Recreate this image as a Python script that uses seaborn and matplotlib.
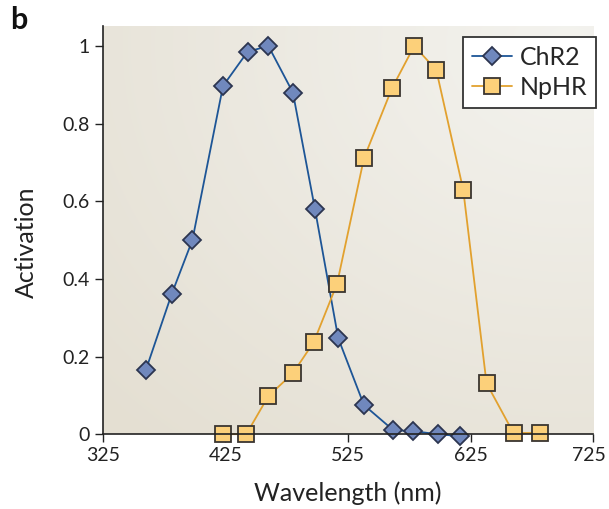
import matplotlib
matplotlib.use('Agg')
import matplotlib.pyplot as plt
import matplotlib.transforms as mtrans
import numpy as np
import pandas as pd
import seaborn as sns

# wavelengths (nm) and activation
chr2_wl = [360, 381, 398, 423, 443, 460, 480, 498, 517, 538, 562, 578, 598, 616]
chr2_act = [0.165, 0.36, 0.50, 0.897, 0.985, 1.0, 0.88, 0.58, 0.247, 0.075, 0.01, 0.008, 0.0, -0.005]

nphr_wl = [423, 442, 460, 480, 497, 516, 538, 561, 579, 597, 619, 638, 660, 682]
nphr_act = [0.0, 0.0, 0.098, 0.157, 0.237, 0.387, 0.711, 0.892, 1.0, 0.938, 0.629, 0.131, 0.003, 0.003]

x_ticks = [325, 425, 525, 625, 725]
y_ticks = [0, 0.2, 0.4, 0.6, 0.8, 1]
y_ticklabels = ['0', '0.2', '0.4', '0.6', '0.8', '1']

sns.set_style('ticks')
plt.rcParams['font.family'] = ['Lato', 'DejaVu Sans']

fig = plt.figure(figsize=(6.09, 5.09), dpi=100)
ax = fig.add_axes([0.169, 0.147, 0.805, 0.802])

# beige radial background, lighter toward upper right
gx, gy = np.meshgrid(np.linspace(0, 1, 300), np.linspace(0, 1, 300))
r = np.sqrt((gx - 0.95) ** 2 + (gy - 0.95) ** 2) / 1.3
c0 = np.array([0.955, 0.952, 0.935])
c1 = np.array([0.895, 0.875, 0.825])
img = c0 + (c1 - c0) * np.clip(r, 0, 1)[..., None]
ax.imshow(img, extent=[0, 1, 0, 1], origin='lower', transform=ax.transAxes,
          aspect='auto', zorder=0)

df1 = pd.DataFrame({'wl': chr2_wl, 'act': chr2_act})
df2 = pd.DataFrame({'wl': nphr_wl, 'act': nphr_act})

sns.lineplot(data=df1, x='wl', y='act', ax=ax, color='#1d5596', lw=1.3,
             marker='D', markersize=9.5, markerfacecolor='#7088bd',
             markeredgecolor='#2c3550', markeredgewidth=1.3, label='ChR2',
             sort=False, zorder=3)
sns.lineplot(data=df2, x='wl', y='act', ax=ax, color='#e2a12e', lw=1.3,
             marker='s', markersize=11, markerfacecolor='#fcd07a',
             markeredgecolor='#3a3530', markeredgewidth=1.3, label='NpHR',
             sort=False, zorder=3)
for ln in ax.lines:
    ln.set_clip_on(False)

ax.set_xlim(325, 725)
ax.set_ylim(0, 1.0515)
ax.set_xticks(x_ticks)
ax.set_yticks(y_ticks)
ax.set_yticklabels(y_ticklabels)
ax.tick_params(labelsize=14, length=6, width=1, color='#222222', labelcolor='#222222')
for s in ['top', 'right']:
    ax.spines[s].set_visible(False)
for s in ['left', 'bottom']:
    ax.spines[s].set_color('#222222')
    ax.spines[s].set_linewidth(1.2)
    ax.spines[s].set_zorder(4)

# nudge the last x label so it stays inside the figure
last = ax.get_xticklabels()[-1]
last.set_transform(last.get_transform() + mtrans.ScaledTranslation(-4 / 100, 0, fig.dpi_scale_trans))

ax.set_xlabel('Wavelength (nm)', fontsize=18, color='#222222', labelpad=12)
ax.set_ylabel('Activation', fontsize=18, color='#222222')
ax.yaxis.set_label_coords(-0.133, 0.47)

leg = ax.legend(loc='upper right', bbox_to_anchor=(1.006, 0.973), fontsize=18,
                frameon=True, fancybox=False, edgecolor='#333333',
                handlelength=1.6, handletextpad=0.3, borderpad=0.35,
                labelspacing=0.3, borderaxespad=0)
leg.get_frame().set_linewidth(1.3)
leg.get_frame().set_facecolor('white')
leg.get_frame().set_alpha(1)
leg.set_zorder(5)

fig.text(0.016, 0.943, 'b', fontsize=22, fontweight='bold', color='#111111')

fig.savefig('out.png', dpi=100)
